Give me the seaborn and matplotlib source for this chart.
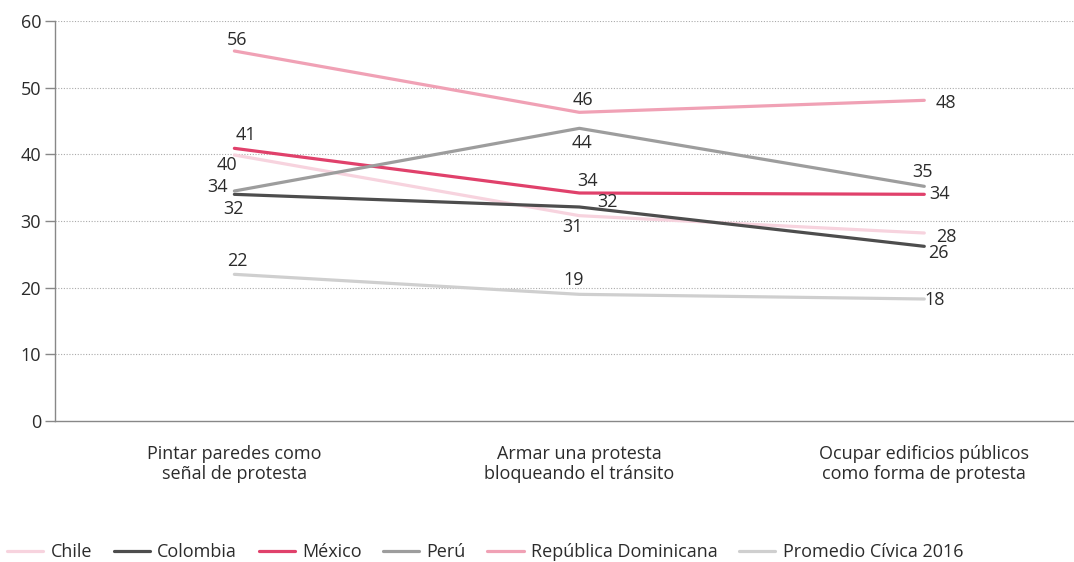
import pandas as pd
import matplotlib
matplotlib.use("Agg")
import matplotlib.pyplot as plt
from matplotlib.ticker import FixedLocator
import seaborn as sns

# values
categories = ["Pintar paredes como\nseñal de protesta",
              "Armar una protesta\nbloqueando el tránsito",
              "Ocupar edificios públicos\ncomo forma de protesta"]
series = ["Chile", "Colombia", "México", "Perú", "República Dominicana", "Promedio Cívica 2016"]
chile = [39.9, 30.8, 28.2]
colombia = [34.0, 32.1, 26.2]
mexico = [40.9, 34.2, 34.0]
peru = [34.5, 43.9, 35.2]
rep_dom = [55.5, 46.3, 48.1]
promedio = [22.0, 19.0, 18.3]
values = [chile, colombia, mexico, peru, rep_dom, promedio]

# printed labels as they appear in the reference
chile_lbl = [40, 31, 28]
colombia_lbl = [32, 32, 26]
mexico_lbl = [41, 34, 34]
peru_lbl = [34, 44, 35]
rep_dom_lbl = [56, 46, 48]
promedio_lbl = [22, 19, 18]
labels = [chile_lbl, colombia_lbl, mexico_lbl, peru_lbl, rep_dom_lbl, promedio_lbl]

colors = {"Chile": "#f7d3de", "Colombia": "#4d4d4d", "México": "#e0416b",
          "Perú": "#9d9d9d", "República Dominicana": "#f0a1b5",
          "Promedio Cívica 2016": "#cfcfcf"}

# label offsets in pixels (dx, dy) per series / category
offsets = {
    "Chile": [(-7, -10), (-7, -11), (22, -4)],
    "Colombia": [(-1, -15), (28, 5), (14, -7)],
    "México": [(12, 13), (8, 12), (15, 0)],
    "Perú": [(-17, 4), (3, -15), (-2, 14)],
    "República Dominicana": [(3, 11), (4, 12), (22, -3)],
    "Promedio Cívica 2016": [(3, 13), (-6, 14), (10, -1)],
}

rows = []
for name, vals in zip(series, values):
    for i, v in enumerate(vals):
        rows.append({"serie": name, "x": i, "valor": v})
df = pd.DataFrame(rows)

sns.set_style("white")
plt.rcParams["font.family"] = ["Open Sans", "DejaVu Sans"]
text_color = "#2b2b2b"
fs = 13

fig = plt.figure(figsize=(10.74, 5.62), dpi=100)
ax = fig.add_axes([55 / 1074, 141 / 562, 1019 / 1074, 400 / 562])

sns.lineplot(data=df, x="x", y="valor", hue="serie", hue_order=series,
             palette=colors, linewidth=2.3, ax=ax, legend=False)

for name, vals, lbls in zip(series, values, labels):
    for i, v in enumerate(vals):
        dx, dy = offsets[name][i]
        ax.annotate(str(lbls[i]), (i, v), xytext=(dx, dy), textcoords="offset pixels",
                    ha="center", va="center", fontsize=fs, color=text_color)

ax.set_xlim(-0.52, 2.434)
ax.set_ylim(0, 60)
ax.set_yticks(range(0, 61, 10))
ax.set_xticks([0, 1, 2])
ax.set_xticklabels(categories)
ax.xaxis.set_minor_locator(FixedLocator([-0.52, 0.5, 1.5]))
ax.tick_params(axis="x", which="major", length=0, pad=17, labelsize=fs, labelcolor=text_color)
ax.tick_params(axis="x", which="minor", length=7, width=1, color="#888888", direction="out")
ax.tick_params(axis="y", length=7, width=1, color="#888888", direction="out", pad=3,
               labelsize=fs, labelcolor=text_color, left=True)
ax.set_xlabel("")
ax.set_ylabel("")

for y in range(10, 61, 10):
    ax.axhline(y, color="#aaaaaa", linestyle=(0, (1, 1.5)), linewidth=0.8, zorder=0)

for side in ["top", "right"]:
    ax.spines[side].set_visible(False)
for side in ["left", "bottom"]:
    ax.spines[side].set_color("#888888")
    ax.spines[side].set_linewidth(1)

handles = [plt.Line2D([], [], color=colors[s], linewidth=2.3) for s in series]
fig.legend(handles, series, loc="center left", bbox_to_anchor=(0.0, 10 / 562),
           ncol=6, frameon=False, fontsize=fs, handlelength=2.0, handletextpad=0.4,
           columnspacing=1.2, borderaxespad=0, labelcolor=text_color)

fig.savefig("out.png", dpi=100)
